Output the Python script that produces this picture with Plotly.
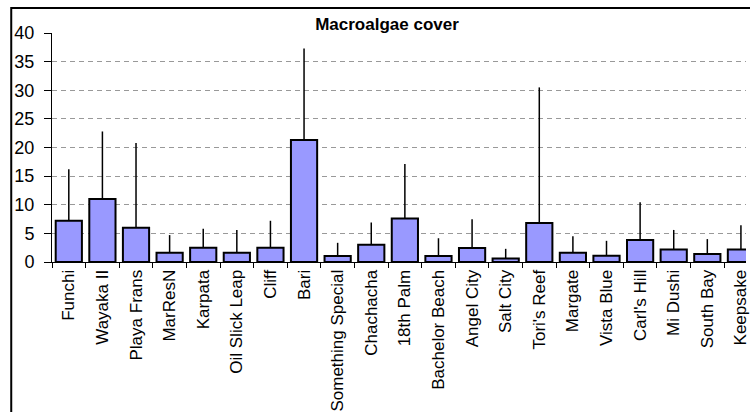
import plotly.graph_objects as go

sites = ["Funchi", "Wayaka II", "Playa Frans", "MarResN", "Karpata", "Oil Slick Leap",
         "Cliff", "Bari", "Something Special", "Chachacha", "18th Palm", "Bachelor Beach",
         "Angel City", "Salt City", "Tori's Reef", "Margate", "Vista Blue", "Carl's Hill",
         "Mi Dushi", "South Bay", "Keepsake"]
cover = [7.2, 11.0, 6.0, 1.6, 2.5, 1.6, 2.5, 21.3, 1.05, 3.0, 7.6, 1.05, 2.45, 0.6,
         6.8, 1.6, 1.1, 3.85, 2.2, 1.4, 2.2]
err_plus = [9.0, 11.8, 14.8, 3.1, 3.3, 4.0, 4.7, 16.0, 2.3, 3.9, 9.5, 3.1, 5.0, 1.7,
            23.7, 2.9, 2.6, 6.6, 3.4, 2.6, 4.2]

FONT = "Liberation Sans, Arial, sans-serif"
L, T, B = 52, 33, 150
W, H = 750, 412
pw, ph = W - L, H - T - B

fig = go.Figure(go.Bar(
    x=sites, y=cover,
    marker=dict(color="#9999FF", line=dict(color="black", width=2)),
    error_y=dict(type="data", array=err_plus, symmetric=False,
                 arrayminus=[0] * len(err_plus), color="black", thickness=1.5, width=0),
))

fig.update_layout(
    width=W, height=H,
    margin=dict(l=L, r=0, t=T, b=B, pad=0),
    paper_bgcolor="white", plot_bgcolor="white",
    bargap=0.22,
    showlegend=False,
    font=dict(family=FONT, color="black", size=17),
    title=dict(text="<b>Macroalgae cover</b>", x=387 / W, y=1 - 24 / H,
               xanchor="center", yanchor="middle",
               font=dict(family=FONT, size=17, color="black")),
    xaxis=dict(type="category", range=[-0.5, -0.5 + pw / 33.8],
               showline=True, linecolor="black", linewidth=1,
               ticks="outside", tickson="boundaries", ticklen=5, tickcolor="black",
               tickangle=-90, showgrid=False, tickfont=dict(size=17)),
    yaxis=dict(range=[0, 40], dtick=5, showline=True, linecolor="black", linewidth=1,
               ticks="outside", ticklen=7, tickcolor="black",
               showgrid=True, gridcolor="#999999", gridwidth=1, griddash="5px,4px",
               zeroline=False, tickfont=dict(size=18), ticklabelstandoff=6),
    shapes=[dict(type="rect", xref="paper", yref="paper",
                 x0=(11 - L) / pw, x1=(W + 50 - L) / pw,
                 y0=-(H + 50 - (T + ph)) / ph, y1=(T + ph - 8) / ph,
                 line=dict(color="black", width=2), fillcolor="rgba(0,0,0,0)",
                 layer="below")],
)

fig.write_html("out.html", config={"displayModeBar": False},
               post_script="document.body.style.margin='0px';document.body.style.overflow='hidden';")
